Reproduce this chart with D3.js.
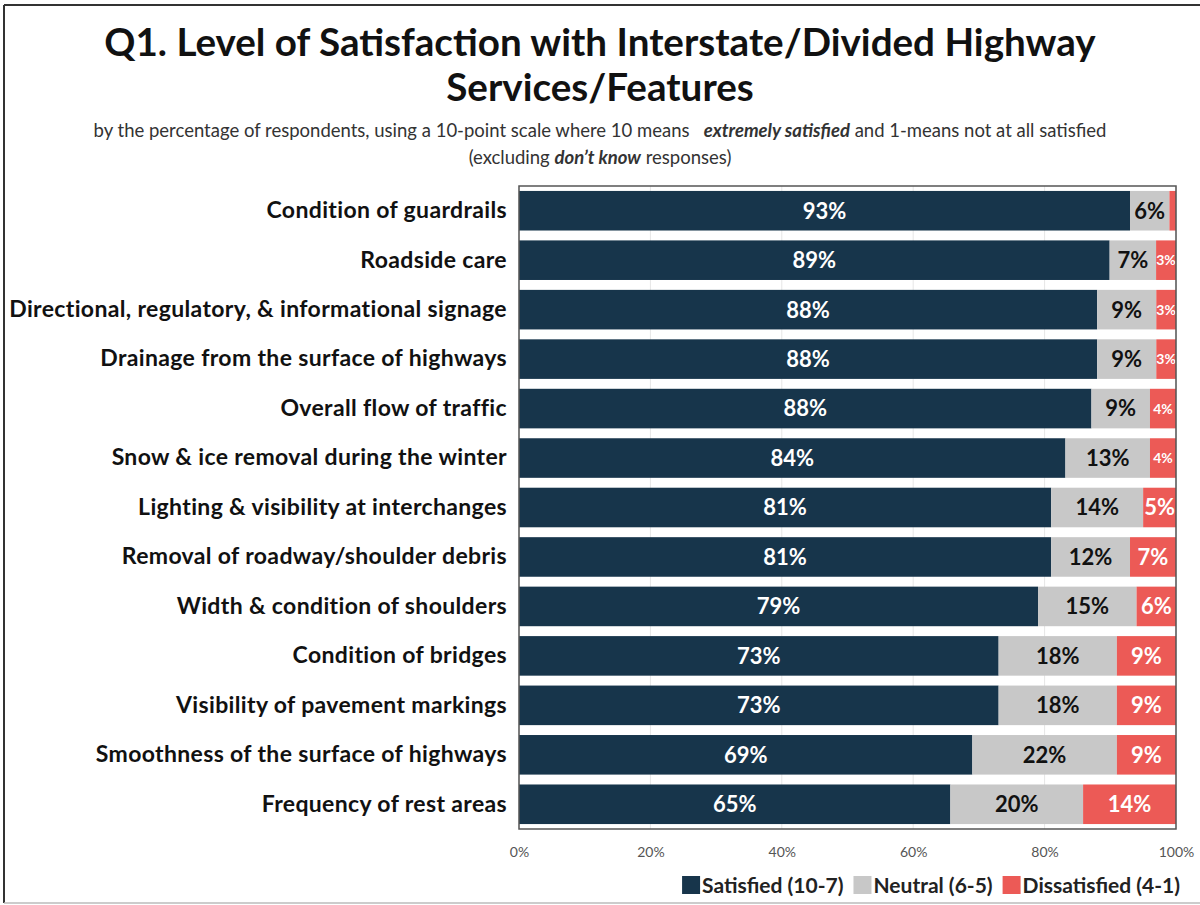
<!DOCTYPE html>
<html>
<head>
<meta charset="utf-8">
<script src="https://cdn.jsdelivr.net/npm/d3@7"></script>
<style>
  html, body { margin: 0; padding: 0; background: #fff; }
  svg { display: block; }
  text { font-family: Lato, "Open Sans", "Noto Sans", sans-serif; }
</style>
</head>
<body>
<svg id="chart" width="1200" height="905"></svg>
<script>
// Survey items, top to bottom
const categories = [
  "Condition of guardrails",
  "Roadside care",
  "Directional, regulatory, & informational signage",
  "Drainage from the surface of highways",
  "Overall flow of traffic",
  "Snow & ice removal during the winter",
  "Lighting & visibility at interchanges",
  "Removal of roadway/shoulder debris",
  "Width & condition of shoulders",
  "Condition of bridges",
  "Visibility of pavement markings",
  "Smoothness of the surface of highways",
  "Frequency of rest areas"
];

// Percent of respondents per rating group
const satisfied    = [93, 89, 88, 88, 88, 84, 81, 81, 79, 73, 73, 69, 65];
const neutral      = [ 6,  7,  9,  9,  9, 13, 14, 12, 15, 18, 18, 22, 20];
const dissatisfied = [ 1,  3,  3,  3,  4,  4,  5,  7,  6,  9,  9,  9, 14];

const seriesNames = ["Satisfied (10-7)", "Neutral (6-5)", "Dissatisfied (4-1)"];
const seriesKeys = ["satisfied", "neutral", "dissatisfied"];
const seriesColors = ["#17354b", "#c8c8c8", "#ec5a56"];
const labelColors = ["#ffffff", "#111111", "#ffffff"];
const xTicks = [0, 0.2, 0.4, 0.6, 0.8, 1];

const rows = categories.map((c, i) => ({
  category: c,
  satisfied: satisfied[i],
  neutral: neutral[i],
  dissatisfied: dissatisfied[i]
}));

const svg = d3.select("#chart");

// Outer frame
svg.append("line").attr("x1", 4).attr("y1", 5).attr("x2", 1200).attr("y2", 5)
  .attr("stroke", "#333").attr("stroke-width", 2);
svg.append("line").attr("x1", 4).attr("y1", 5).attr("x2", 4).attr("y2", 903)
  .attr("stroke", "#333").attr("stroke-width", 2);
svg.append("line").attr("x1", 4).attr("y1", 903).attr("x2", 1200).attr("y2", 903)
  .attr("stroke", "#bbb").attr("stroke-width", 1.5);

// Title
const title = svg.append("text")
  .attr("text-anchor", "middle")
  .attr("font-weight", "bold")
  .attr("font-size", 38.6)
  .attr("fill", "#111");
title.append("tspan").attr("x", 600).attr("y", 56)
  .text("Q1. Level of Satisfaction with Interstate/Divided Highway");
title.append("tspan").attr("x", 600).attr("y", 101)
  .text("Services/Features");

// Subtitle
const sub1 = svg.append("text")
  .attr("x", 600).attr("y", 137)
  .attr("text-anchor", "middle")
  .attr("font-size", 18.5)
  .attr("fill", "#333")
  .attr("xml:space", "preserve");
sub1.append("tspan").text("by the percentage of respondents, using a 10-point scale where 10 means   ");
sub1.append("tspan").attr("font-weight", "bold").attr("font-style", "italic").text("extremely satisfied");
sub1.append("tspan").text(" and 1-means not at all satisfied");

const sub2 = svg.append("text")
  .attr("x", 600).attr("y", 164)
  .attr("text-anchor", "middle")
  .attr("font-size", 18.5)
  .attr("fill", "#333");
sub2.append("tspan").text("(excluding ");
sub2.append("tspan").attr("font-weight", "bold").attr("font-style", "italic").text("don\u2019t know");
sub2.append("tspan").text(" responses)");

// Plot area
const plot = { left: 519, right: 1176, top: 186, bottom: 829 };

const x = d3.scaleLinear().domain([0, 1]).range([plot.left, plot.right]);
const y = d3.scaleBand().domain(categories).range([plot.top, plot.bottom])
  .paddingInner(0.2).paddingOuter(0.1);

// Light vertical gridlines
svg.append("g")
  .selectAll("line")
  .data(xTicks)
  .join("line")
  .attr("x1", d => x(d)).attr("x2", d => x(d))
  .attr("y1", plot.top).attr("y2", plot.bottom)
  .attr("stroke", "#e6e6e6").attr("stroke-width", 1);

// 100% stacked layout
const stack = d3.stack().keys(seriesKeys).offset(d3.stackOffsetExpand);
const layers = stack(rows);

const layerG = svg.append("g")
  .selectAll("g")
  .data(layers)
  .join("g")
  .attr("fill", (d, i) => seriesColors[i]);

layerG.selectAll("rect")
  .data(d => d)
  .join("rect")
  .attr("x", d => x(d[0]))
  .attr("y", d => y(d.data.category))
  .attr("width", d => x(d[1]) - x(d[0]))
  .attr("height", y.bandwidth());

// Segment value labels
layers.forEach((layer, li) => {
  svg.append("g")
    .selectAll("text")
    .data(layer.filter(d => d.data[layer.key] >= 2))
    .join("text")
    .attr("x", d => (x(d[0]) + x(d[1])) / 2)
    .attr("y", d => y(d.data.category) + y.bandwidth() / 2)
    .attr("dy", "0.36em")
    .attr("text-anchor", "middle")
    .attr("font-weight", "bold")
    .attr("font-size", d => d.data[layer.key] <= 4 ? 14 : 22)
    .attr("fill", labelColors[li])
    .text(d => d.data[layer.key] + "%");
});

// Plot border
svg.append("rect")
  .attr("x", plot.left).attr("y", plot.top)
  .attr("width", plot.right - plot.left).attr("height", plot.bottom - plot.top)
  .attr("fill", "none").attr("stroke", "#555").attr("stroke-width", 1.5);

// Category axis (labels only)
const yAxis = svg.append("g")
  .attr("transform", `translate(${plot.left - 12},0)`)
  .call(d3.axisLeft(y).tickSize(0).tickPadding(0));
yAxis.select(".domain").remove();
yAxis.selectAll("text")
  .attr("font-family", "Lato, 'Open Sans', sans-serif")
  .attr("font-size", 23)
  .attr("letter-spacing", 0.35)
  .attr("font-weight", "bold")
  .attr("fill", "#111");

// Percentage axis (labels only)
const xAxis = svg.append("g")
  .attr("transform", `translate(0,${plot.bottom + 10})`)
  .call(d3.axisBottom(x).tickValues(xTicks).tickFormat(d3.format(".0%")).tickSize(0).tickPadding(8));
xAxis.select(".domain").remove();
xAxis.selectAll("text")
  .attr("font-family", "Lato, 'Open Sans', sans-serif")
  .attr("font-size", 14)
  .attr("fill", "#555");

// Legend, right-aligned under the plot
const legendItems = seriesNames.map((n, i) => ({ name: n, color: seriesColors[i] }));
const legend = svg.append("g").attr("transform", "translate(0,885)");
const items = legendItems.map(d => {
  const g = legend.append("g");
  g.append("rect").attr("x", 0).attr("y", -9).attr("width", 18).attr("height", 18).attr("fill", d.color);
  const t = g.append("text").attr("x", 20).attr("y", 0).attr("dy", "0.36em")
    .attr("font-size", 21).attr("font-weight", "bold").attr("fill", "#222").text(d.name);
  return { g, w: 20 + t.node().getComputedTextLength() };
});
const gap = 10;
const totalW = d3.sum(items, d => d.w) + gap * (items.length - 1);
let lx = 1180 - totalW;
items.forEach(it => {
  it.g.attr("transform", `translate(${lx},0)`);
  lx += it.w + gap;
});
</script>
</body>
</html>
